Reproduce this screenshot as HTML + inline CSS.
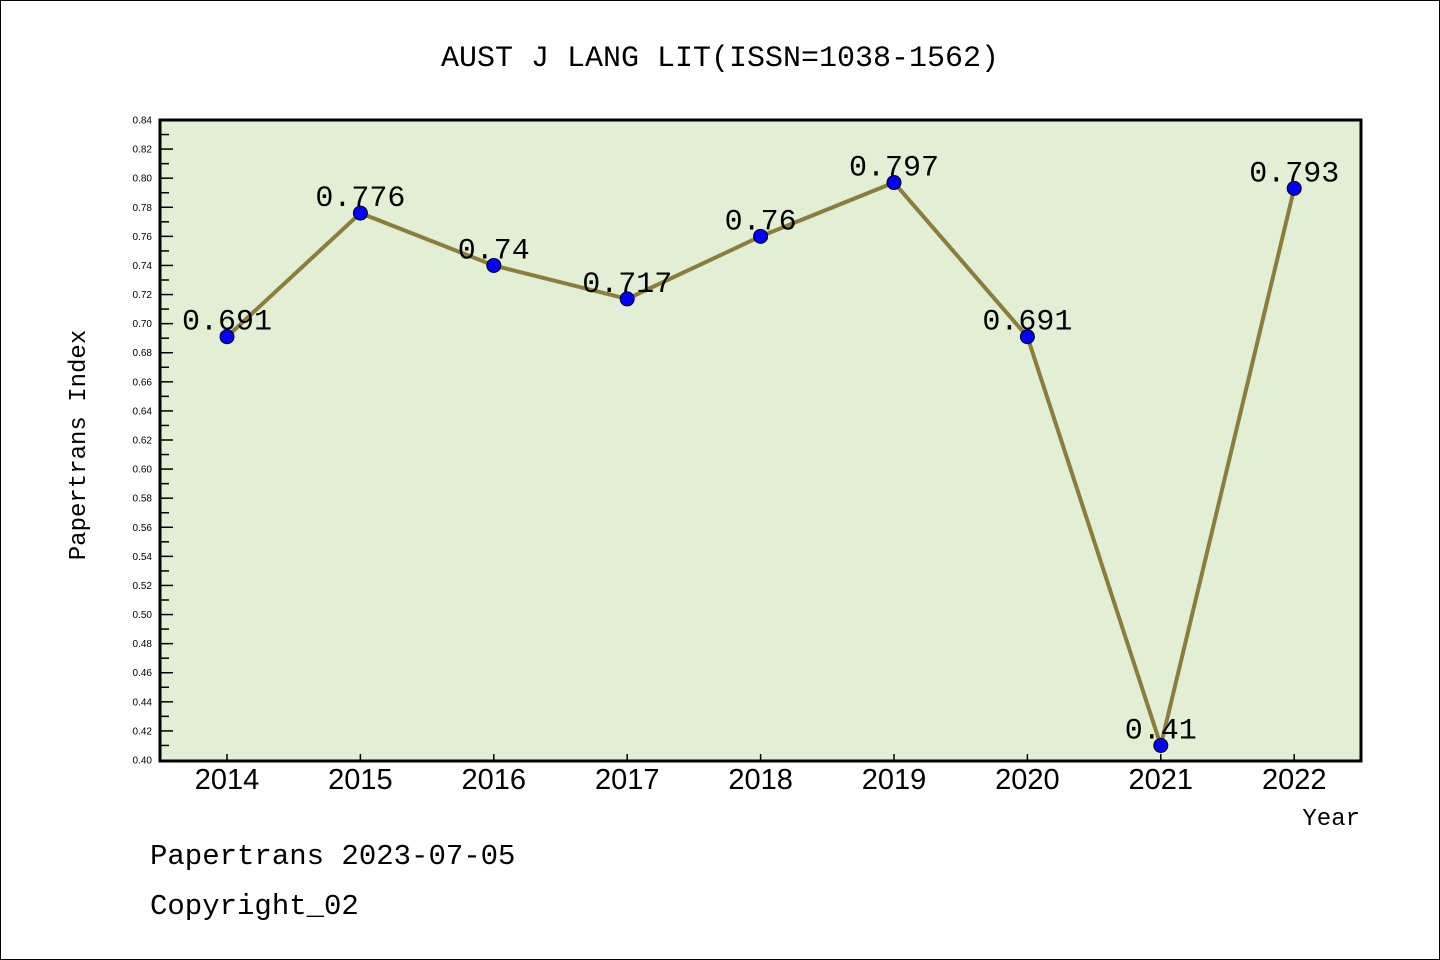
<!DOCTYPE html>
<html><head><meta charset="utf-8"><style>
body{margin:0;background:#fff}
svg{display:block}
text{font-family:"Liberation Mono","Noto Sans CJK SC",monospace}
</style></head><body>
<svg id="chart" width="1440" height="960">
<rect x="0.5" y="0.5" width="1439" height="959" fill="#fff" stroke="#000"/>
<text x="720" y="66" text-anchor="middle" font-size="30">AUST J LANG LIT(ISSN=1038-1562)</text>
<rect x="160" y="120" width="1201" height="641" fill="#e2efd5" stroke="#000" stroke-width="3"/>
<g id="yaxis"></g>
<g id="xaxis"></g>
<g id="series"></g>
<text transform="translate(85,445) rotate(-90)" text-anchor="middle" font-size="24">Papertrans Index</text>
<text x="1360" y="825" text-anchor="end" font-size="24">Year</text>
<text x="150" y="864" font-size="29">Papertrans 2023-07-05</text>
<text x="150" y="914" font-size="29">Copyright_02</text>
</svg>
<script>
const years=["2014","2015","2016","2017","2018","2019","2020","2021","2022"];
const values=[0.691,0.776,0.74,0.717,0.76,0.797,0.691,0.41,0.793];
const labels=["0.691","0.776","0.74","0.717","0.76","0.797","0.691","0.41","0.793"];
const yMin=0.40,yMax=0.84;
const NS="http://www.w3.org/2000/svg";
function y(v){return 760-(v-yMin)/(yMax-yMin)*640;}
function x(i){return 227+i*133.4;}
function mk(tag,attrs,parent,txt){const e=document.createElementNS(NS,tag);for(const k in attrs)e.setAttribute(k,attrs[k]);if(txt!==undefined)e.textContent=txt;parent.appendChild(e);return e;}
const ya=document.getElementById('yaxis'),xa=document.getElementById('xaxis'),sg=document.getElementById('series');
for(let k=0;k<=44;k++){
 const v=yMin+k*0.01, yy=y(v);
 const major=k%2===0;
 if(k>0&&k<44){const t=mk('line',{x1:160,x2:major?173:169,y1:yy,y2:yy,stroke:'#000','stroke-width':1.5},ya);
 
 }
 if(major){const l=mk('text',{x:152,y:yy+3.5,'text-anchor':'end','font-size':10,style:'font-family:"Liberation Sans",sans-serif'},ya,v.toFixed(2));
 
 }
}
years.forEach((yr,i)=>{
 const t=mk('line',{x1:x(i),x2:x(i),y1:760,y2:754,stroke:'#000','stroke-width':1.5},xa);
 
 
 const l=mk('text',{x:x(i),y:789,'text-anchor':'middle','font-size':29,style:'font-family:"Liberation Sans",sans-serif'},xa,yr);
 
 
});
const pts=values.map((v,i)=>x(i)+','+y(v)).join(' ');
const line=mk('polyline',{points:pts,fill:'none',stroke:'#8b7d3a','stroke-width':4},sg);


values.forEach((v,i)=>{
 const c=mk('circle',{cx:x(i),cy:y(v),r:7,fill:'#0000ff',stroke:'#000','stroke-width':1},sg);
 
 
 const l=mk('text',{x:x(i),y:y(v)-7,'text-anchor':'middle','font-size':30},sg,labels[i]);
 
 
});
</script>
</body></html>
